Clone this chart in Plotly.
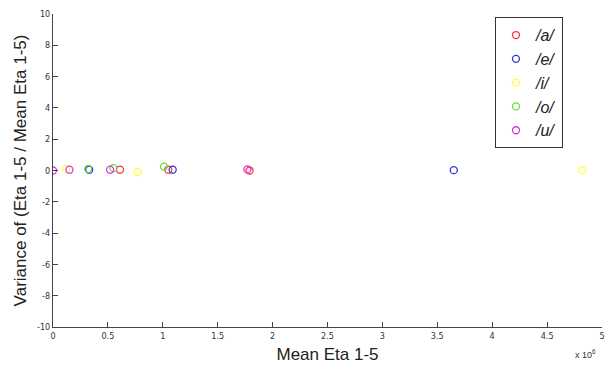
import plotly.graph_objects as go

# Data (x in units of 1e6)
series_names = ["/a/", "/e/", "/i/", "/o/", "/u/"]
colors = ["#ff3333", "#3333dd", "#ffff33", "#66dd33", "#dd33dd"]

a_x = [0.61, 1.05, 1.79]
a_y = [0.05, 0.05, 0.0]
e_x = [0.33, 1.09, 3.65]
e_y = [0.05, 0.05, 0.02]
i_x = [0.12, 0.77, 4.82]
i_y = [0.1, -0.1, 0.02]
o_x = [0.32, 0.55, 1.01]
o_y = [0.1, 0.15, 0.25]
u_x = [0.0, 0.15, 0.52, 1.77]
u_y = [0.0, 0.05, 0.05, 0.07]

xs = [a_x, e_x, i_x, o_x, u_x]
ys = [a_y, e_y, i_y, o_y, u_y]

x_ticks = [0, 0.5, 1, 1.5, 2, 2.5, 3, 3.5, 4, 4.5, 5]
y_ticks = [-10, -8, -6, -4, -2, 0, 2, 4, 6, 8, 10]

fig = go.Figure()
for name, c, x, y in zip(series_names, colors, xs, ys):
    fig.add_trace(go.Scatter(
        x=x, y=y, mode="markers", name=name,
        marker=dict(symbol="circle-open", size=7, color=c, line=dict(width=1.3, color=c)),
    ))

axis_font = dict(family="Liberation Sans Narrow, DejaVu Sans Condensed, Arial", size=9, color="#333")
fig.update_layout(
    width=609, height=369,
    margin=dict(l=53, r=4, t=14, b=42),
    paper_bgcolor="white", plot_bgcolor="white",
    showlegend=True,
    legend=dict(
        x=0.805, y=0.99, xanchor="left", yanchor="top",
        bordercolor="#333", borderwidth=1, bgcolor="white",
        font=dict(family="Liberation Sans, Arial", size=16, color="#222", style="italic"),
        itemsizing="trace", tracegroupgap=0,
    ),
    xaxis=dict(
        range=[0, 5], tickvals=x_ticks, ticktext=[str(v) for v in x_ticks],
        ticks="inside", ticklen=5, tickcolor="#444",
        showline=True, linecolor="#444", linewidth=1,
        showgrid=False, zeroline=False, tickfont=axis_font,
        title=dict(text="Mean Eta 1-5", font=dict(family="Liberation Sans, Arial", size=17, color="#222"), standoff=8),
    ),
    yaxis=dict(
        range=[-10, 10], tickvals=y_ticks, ticktext=[str(v) for v in y_ticks],
        ticks="inside", ticklen=5, tickcolor="#444",
        showline=True, linecolor="#444", linewidth=1,
        showgrid=False, zeroline=False, tickfont=axis_font,
        title=dict(text="Variance of (Eta 1-5 / Mean Eta 1-5)", font=dict(family="Liberation Sans, Arial", size=17, color="#222"), standoff=6),
    ),
)
fig.add_annotation(
    text="x 10<sup>6</sup>", xref="paper", yref="paper", x=0.97, y=-0.06,
    xanchor="center", yanchor="top", showarrow=False,
    font=dict(family="Liberation Sans Narrow, Arial", size=9, color="#333"),
)
fig.write_html("out.html")
